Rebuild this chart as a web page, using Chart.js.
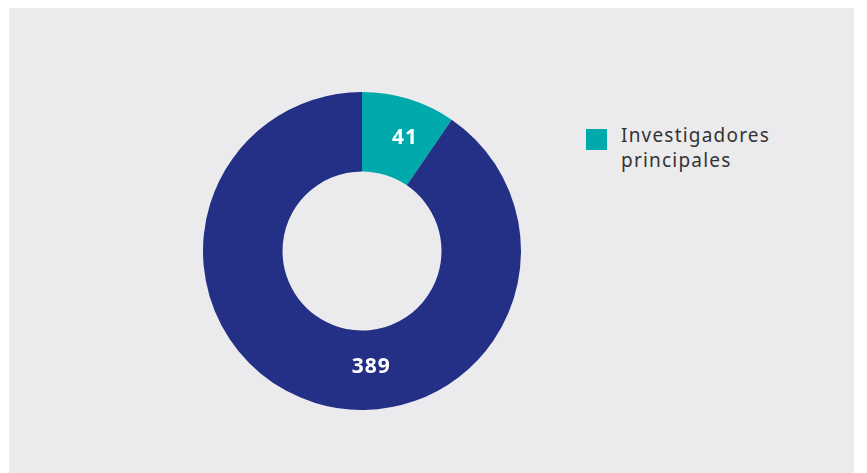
<!DOCTYPE html>
<html>
<head>
<meta charset="utf-8">
<script src="https://cdn.jsdelivr.net/npm/chart.js@4"></script>
<style>
  html, body { margin: 0; padding: 0; background: #ffffff; }
  #panel { position: absolute; left: 9px; top: 8px; width: 845px; height: 465px; background: #ebebee; }
  #wrap { position: absolute; left: 203px; top: 92px; width: 318px; height: 318px; }
  #legend { position: absolute; left: 586px; top: 123px; font-family: "Noto Sans", sans-serif; font-size: 19px; letter-spacing: 1.2px; line-height: 25px; color: #333333; }
  .item { display: flex; align-items: flex-start; }
  .box { width: 21px; height: 21px; margin-top: 6px; margin-right: 14px; flex: none; }
</style>
</head>
<body>
<div id="panel"></div>
<div id="wrap"><canvas id="donut"></canvas></div>
<div id="legend"></div>
<script>
// categories and values
var labels = ["Investigadores principales", "Otros investigadores"];
var values = [41, 389];
var colors = ["#00a9ab", "#233086"];
// only the first category appears in the legend
var legendShown = [true, false];

// white numbers on each slice
var sliceLabels = {
  id: "sliceLabels",
  afterDatasetsDraw: function(chart) {
    var ctx = chart.ctx;
    var meta = chart.getDatasetMeta(0);
    ctx.save();
    ctx.fillStyle = "#ffffff";
    ctx.font = "bold 21px 'Noto Sans', sans-serif";
    ctx.letterSpacing = "1px";
    ctx.textAlign = "center";
    ctx.textBaseline = "middle";
    meta.data.forEach(function(arc, i) {
      var p = arc.getProps(["x", "y", "startAngle", "endAngle", "innerRadius", "outerRadius"], true);
      var ang = (p.startAngle + p.endAngle) / 2;
      // the big slice has its number straight below the hole
      if (p.endAngle - p.startAngle > Math.PI) ang = Math.PI / 2 - 0.07;
      var r = (p.innerRadius + p.outerRadius) / 2;
      if (i === 0) ang += 0.06;
      ctx.fillText(String(values[i]), p.x + Math.cos(ang) * r + 1, p.y + Math.sin(ang) * r - (i === 1 ? 3 : 1));
    });
    ctx.restore();
  }
};

var chart = new Chart(document.getElementById("donut"), {
  type: "doughnut",
  data: {
    labels: labels,
    datasets: [{
      data: values,
      backgroundColor: colors,
      borderWidth: 0
    }]
  },
  options: {
    responsive: true,
    maintainAspectRatio: false,
    animation: false,
    cutout: "50%",
    layout: { padding: 0 },
    plugins: {
      legend: { display: false },
      tooltip: { enabled: false }
    }
  },
  plugins: [sliceLabels]
});

// html legend built from the chart data
var legendDiv = document.getElementById("legend");
chart.data.labels.forEach(function(lab, i) {
  if (!legendShown[i]) return;
  var words = lab.split(" ");
  var item = document.createElement("div");
  item.className = "item";
  item.innerHTML = '<span class="box" style="background:' + colors[i] + '"></span><span>' + words.join("<br>") + '</span>';
  legendDiv.appendChild(item);
});
</script>
</body>
</html>
